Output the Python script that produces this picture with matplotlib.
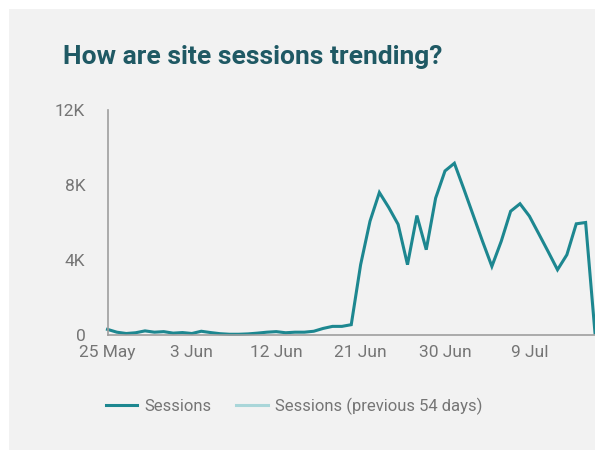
import pandas as pd
import matplotlib
matplotlib.use('Agg')
import matplotlib.pyplot as plt
import matplotlib.dates as mdates
from matplotlib.patches import Rectangle

plt.rcParams['font.family'] = ['Roboto', 'DejaVu Sans']

# datos (sesiones por dia desde el 25 de mayo)
fechas = pd.date_range('2020-05-25', periods=53, freq='D')
sesiones = [300, 150, 80, 120, 220, 150, 180, 100, 130, 80,
            200, 130, 70, 40, 40, 60, 100, 150, 180, 120,
            150, 150, 200, 350, 460, 460, 550, 3750, 6070, 7600,
            6800, 5900, 3750, 6370, 4550, 7300, 8750, 9160, 7800, 6400,
            5000, 3660, 5000, 6600, 7000, 6340, 5400, 4450, 3480, 4280,
            5930, 6000, 100]
sesiones_previas = []  # no se ve en el grafico, solo en la leyenda
y_ticks = [0, 4000, 8000, 12000]
y_labels = ['0', '4K', '8K', '12K']

color_linea = '#1d8790'
color_previo = '#a9d6d9'
color_texto = '#757575'
fondo = '#f2f2f2'

fig = plt.figure(figsize=(5.95, 4.5), dpi=100)
fig.patch.set_facecolor('white')
fig.patches.append(Rectangle((9 / 595, 0), 1, 441 / 450, transform=fig.transFigure,
                             facecolor=fondo, edgecolor='none', zorder=-10))

ax = fig.add_axes([107.5 / 595, 115 / 450, 1 - 107.5 / 595, 225 / 450])
ax.set_facecolor('none')

ax.plot(fechas, sesiones, color=color_linea, lw=2.2, label='Sessions', clip_on=False,
        solid_joinstyle='miter')
ax.plot(fechas[:len(sesiones_previas)], sesiones_previas, color=color_previo, lw=2.2,
        label='Sessions (previous 54 days)')

ax.set_xlim(fechas[0], fechas[-1])
ax.set_ylim(0, 12000)
ax.set_yticks(y_ticks)
ax.set_yticklabels(y_labels)
ax.set_xticks(fechas[::9])
ax.xaxis.set_major_formatter(mdates.DateFormatter('%-d %b'))

for lado in ['top', 'right']:
    ax.spines[lado].set_visible(False)
for lado in ['left', 'bottom']:
    ax.spines[lado].set_color('#9e9e9e')
    ax.spines[lado].set_linewidth(1.2)
ax.tick_params(length=0, labelsize=12.5, labelcolor=color_texto)
ax.tick_params(axis='y', pad=16)
ax.tick_params(axis='x', pad=7)

fig.text(63 / 595, 1 - 64 / 450, 'How are site sessions trending?', fontsize=19,
         fontweight='bold', color='#1f5964', va='baseline', ha='left')

fig.legend(loc='center', bbox_to_anchor=(294 / 595, 1 - 406 / 450), ncol=2, frameon=False,
           fontsize=12, labelcolor=color_texto, handlelength=1.9, handletextpad=0.45,
           columnspacing=1.45)

fig.savefig('out.png', dpi=100, facecolor=fig.get_facecolor())
